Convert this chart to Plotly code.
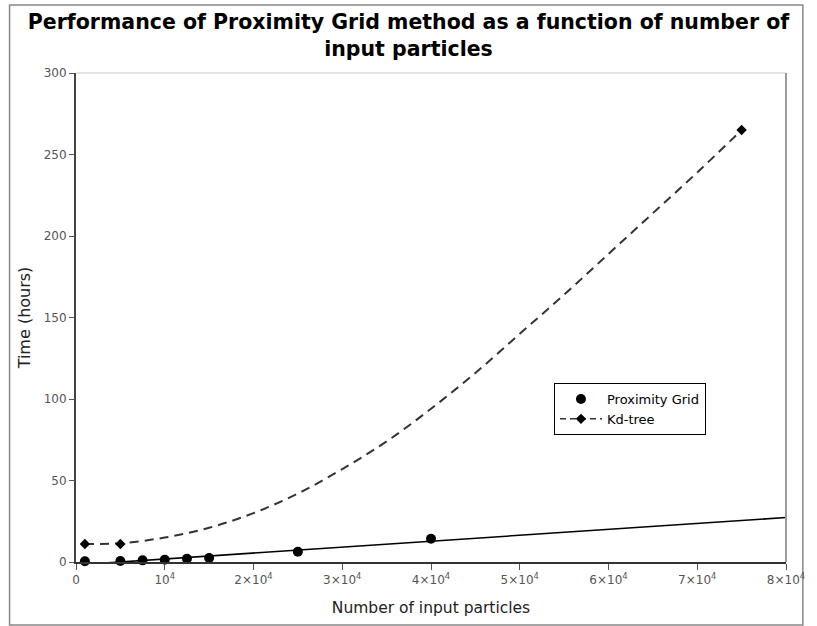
import plotly.graph_objects as go

# Measured points
grid_n = [1000, 5000, 7500, 10000, 12500, 15000, 25000, 40000]
grid_t = [0.5, 0.6, 1.0, 1.4, 2.0, 2.5, 6.3, 14.3]

kd_n = [1000, 5000, 75000]
kd_t = [11.0, 11.0, 265.0]

# Fitted curves
grid_fit_n = [0, 80000]
grid_fit_t = [-1.8, 27.3]

kd_fit_n = [1000, 5000, 10000, 15000, 20000, 25000, 30000, 35000, 40000,
            45000, 50000, 55000, 60000, 65000, 70000, 75000]
kd_fit_t = [11.0, 11.5, 15.0, 21.0, 30.0, 42.0, 57.0, 74.0, 94.0,
            116.0, 140.0, 164.0, 189.0, 214.0, 239.0, 265.0]

x_tickvals = [0, 10000, 20000, 30000, 40000, 50000, 60000, 70000, 80000]
x_ticktext = ["0", "10<sup>4</sup>", "2×10<sup>4</sup>", "3×10<sup>4</sup>", "4×10<sup>4</sup>",
              "5×10<sup>4</sup>", "6×10<sup>4</sup>", "7×10<sup>4</sup>", "8×10<sup>4</sup>"]
y_tickvals = [0, 50, 100, 150, 200, 250, 300]

FONT = "DejaVu Sans"

fig = go.Figure()

fig.add_trace(go.Scatter(x=grid_fit_n, y=grid_fit_t, mode="lines",
                         line=dict(color="black", width=1.6), showlegend=False,
                         hoverinfo="skip"))
fig.add_trace(go.Scatter(x=kd_fit_n, y=kd_fit_t, mode="lines", line_shape="spline",
                         line=dict(color="#333333", width=2, dash="9px,6px"),
                         showlegend=False, hoverinfo="skip"))
fig.add_trace(go.Scatter(x=grid_n, y=grid_t, mode="markers", name="Proximity Grid",
                         marker=dict(symbol="circle", size=10, color="black"),
                         cliponaxis=False))
fig.add_trace(go.Scatter(x=kd_n, y=kd_t, mode="markers", name="Kd-tree",
                         marker=dict(symbol="diamond", size=8, color="black"),
                         cliponaxis=False, showlegend=False))
fig.add_trace(go.Scatter(x=[None], y=[None], mode="lines+markers", name="Kd-tree",
                         marker=dict(symbol="diamond", size=8, color="black"),
                         line=dict(color="#333333", width=1.5, dash="6px,4px")))

L, R, T, B = 76, 25, 73, 64
W, H = 817, 626
pw, ph = W - L - R, H - T - B

def px_x(px):
    return (px - L) / pw

def px_y(py):
    return (H - B - py) / ph

fig.update_layout(
    width=W, height=H,
    margin=dict(l=L, r=R, t=T, b=B),
    paper_bgcolor="white", plot_bgcolor="white",
    font=dict(family=FONT, color="#444444", size=12),
    title=dict(text="<b>Performance of Proximity Grid method as a function of number of<br>input particles</b>",
               x=0.5, xref="container", xanchor="center",
               y=1 - 29 / H, yref="container", yanchor="middle",
               font=dict(family=FONT, size=20.5, color="black")),
    showlegend=True,
    legend=dict(x=px_x(558), y=px_y(383), xanchor="left", yanchor="top",
                bordercolor="black", borderwidth=1, bgcolor="white",
                font=dict(family=FONT, size=13, color="black"),
                itemwidth=42, tracegroupgap=0),
    xaxis=dict(range=[0, 80000], tickvals=x_tickvals, ticktext=x_ticktext,
               showgrid=False, zeroline=False, showline=True, linecolor="#333333", linewidth=2,
               ticks="outside", ticklen=6, tickwidth=1, tickcolor="#555555",
               tickfont=dict(family=FONT, size=12, color="#555555"),
               title=dict(text="Number of input particles", standoff=16,
                          font=dict(family=FONT, size=15.5, color="#222222"))),
    yaxis=dict(range=[0, 300], tickvals=y_tickvals,
               showgrid=False, zeroline=False, showline=True, linecolor="#444444", linewidth=2,
               ticks="outside", ticklen=5, tickwidth=1, tickcolor="#555555",
               tickfont=dict(family=FONT, size=12, color="#555555"),
               title=dict(text="Time (hours)", standoff=9,
                          font=dict(family=FONT, size=16, color="#222222"))),
    shapes=[
        dict(type="line", xref="paper", yref="paper", x0=0, x1=1, y0=1, y1=1,
             line=dict(color="#cccccc", width=1)),
        dict(type="line", xref="paper", yref="paper", x0=1, x1=1, y0=0, y1=1,
             line=dict(color="#999999", width=2)),
        dict(type="rect", xref="paper", yref="paper",
             x0=px_x(9), x1=px_x(809), y0=px_y(625), y1=px_y(5),
             line=dict(color="#888888", width=1.5), layer="below"),
    ],
)

fig.write_html("out.html")
